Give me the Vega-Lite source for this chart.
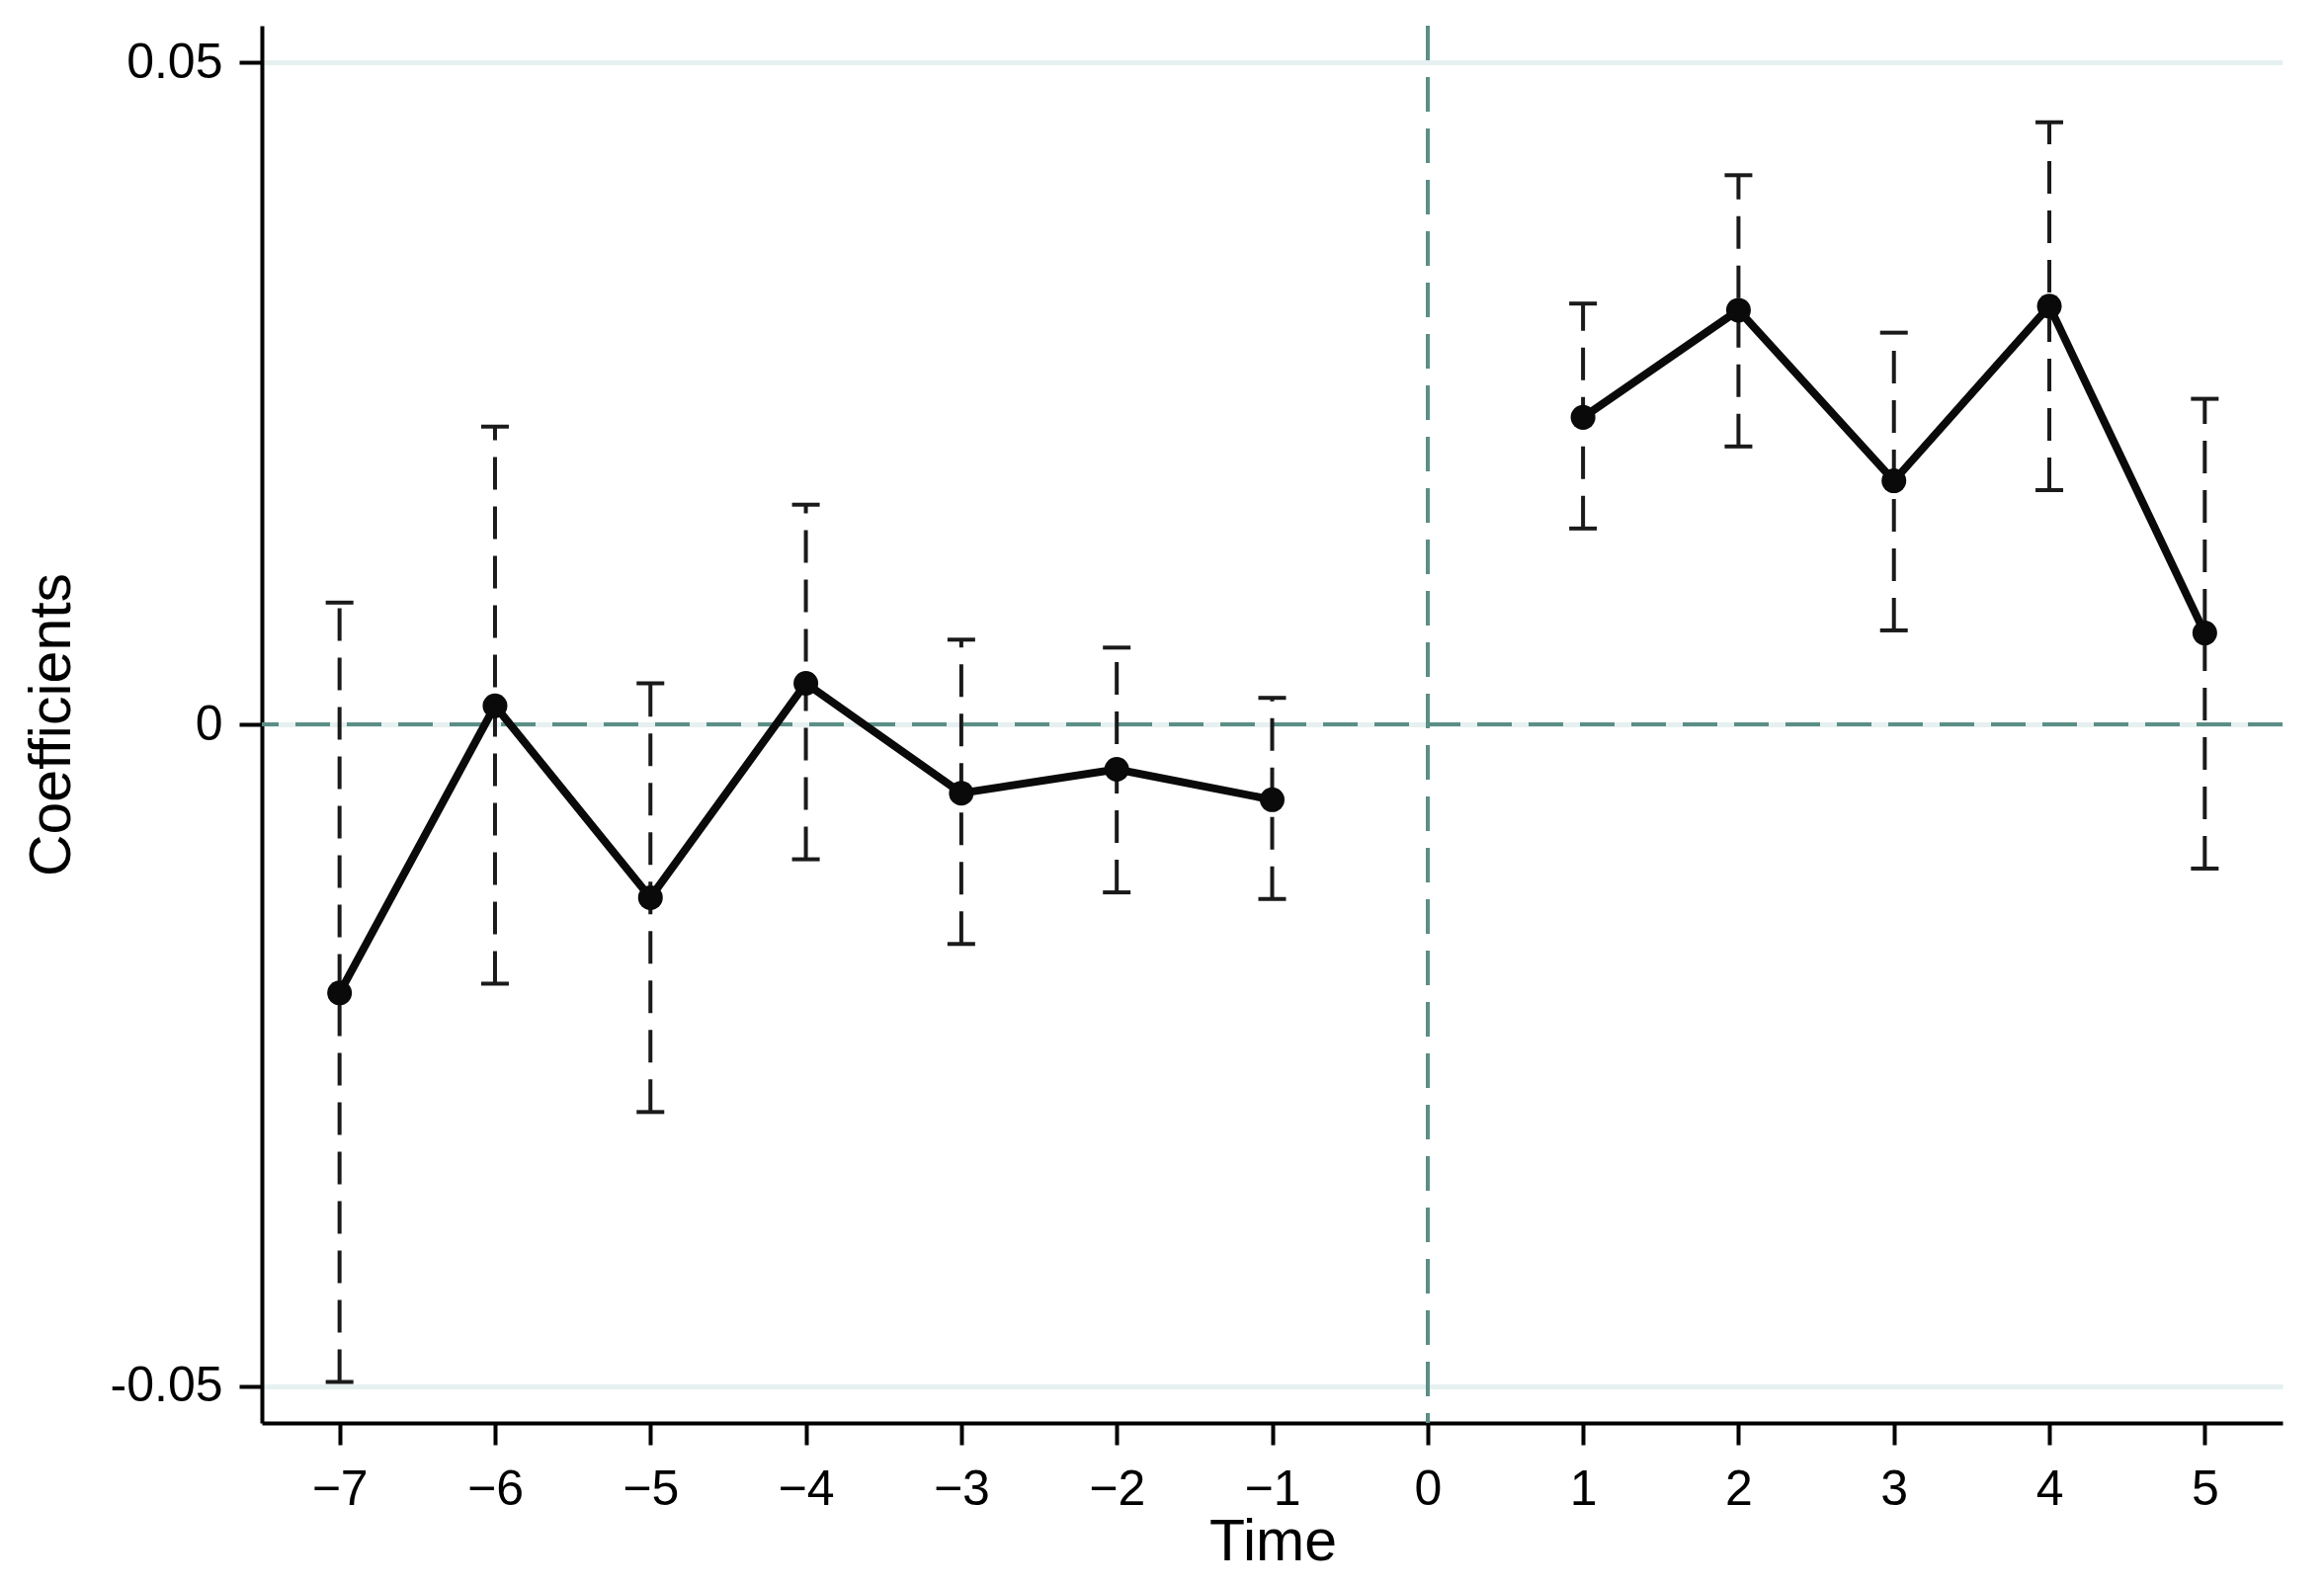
{
  "$schema": "https://vega.github.io/schema/vega-lite/v6.json",
  "width": 2045,
  "height": 1414,
  "autosize": {"type": "none"},
  "padding": {"left": 265, "top": 26, "right": 42, "bottom": 166},
  "background": "white",
  "config": {
    "view": {"stroke": null},
    "font": "Liberation Sans",
    "axis": {
      "domainColor": "#000000",
      "domainWidth": 4,
      "tickColor": "#000000",
      "tickWidth": 4,
      "labelFont": "Liberation Sans",
      "titleFont": "Liberation Sans",
      "labelColor": "#000000",
      "titleColor": "#000000",
      "titleFontWeight": "normal"
    }
  },
  "data": {
    "values": [
      {"t": -7, "b": -0.0203, "lo": -0.0497, "hi": 0.0092, "period": "pre"},
      {"t": -6, "b": 0.0014, "lo": -0.0196, "hi": 0.0225, "period": "pre"},
      {"t": -5, "b": -0.0131, "lo": -0.0293, "hi": 0.0031, "period": "pre"},
      {"t": -4, "b": 0.0031, "lo": -0.0102, "hi": 0.0166, "period": "pre"},
      {"t": -3, "b": -0.0052, "lo": -0.0166, "hi": 0.0064, "period": "pre"},
      {"t": -2, "b": -0.0034, "lo": -0.0127, "hi": 0.0058, "period": "pre"},
      {"t": -1, "b": -0.0057, "lo": -0.0132, "hi": 0.0020, "period": "pre"},
      {"t": 1, "b": 0.0232, "lo": 0.0148, "hi": 0.0318, "period": "post"},
      {"t": 2, "b": 0.0313, "lo": 0.0210, "hi": 0.0415, "period": "post"},
      {"t": 3, "b": 0.0184, "lo": 0.0071, "hi": 0.0296, "period": "post"},
      {"t": 4, "b": 0.0316, "lo": 0.0177, "hi": 0.0455, "period": "post"},
      {"t": 5, "b": 0.0069, "lo": -0.0109, "hi": 0.0246, "period": "post"}
    ]
  },
  "encoding": {
    "x": {
      "field": "t",
      "type": "quantitative",
      "scale": {"domain": [-7.5, 5.5], "nice": false, "zero": false},
      "axis": {
        "title": "Time",
        "values": [-7, -6, -5, -4, -3, -2, -1, 0, 1, 2, 3, 4, 5],
        "format": "d",
        "grid": false,
        "tickSize": 22,
        "labelFontSize": 50,
        "labelBaseline": "alphabetic",
        "labelPadding": 60,
        "labelFlush": false,
        "labelOverlap": false,
        "titleFontSize": 59,
        "titleBaseline": "alphabetic",
        "titleX": 1023,
        "titleY": 138
      }
    },
    "y": {
      "field": "b",
      "type": "quantitative",
      "scale": {"domain": [-0.0528, 0.0528], "nice": false, "zero": false},
      "axis": {
        "title": "Coefficients",
        "values": [-0.05, 0, 0.05],
        "format": "~g",
        "labelExpr": "replace(datum.label, '−', '-')",
        "grid": true,
        "gridColor": "#e6f0f0",
        "gridWidth": 5,
        "tickSize": 23,
        "labelFontSize": 50,
        "labelPadding": 17,
        "labelFlush": false,
        "titleFontSize": 59,
        "titleBaseline": "alphabetic",
        "titleX": -195,
        "titleY": 707
      }
    }
  },
  "layer": [
    {
      "mark": {"type": "rule", "color": "#5b8f86", "strokeWidth": 3, "strokeDash": [35, 17]},
      "encoding": {"x": {"datum": 0}, "y": null}
    },
    {
      "mark": {"type": "rule", "color": "#5b8f86", "strokeWidth": 4, "strokeDash": [35, 17]},
      "encoding": {"y": {"datum": 0}, "x": null}
    },
    {
      "mark": {"type": "rule", "color": "#1a1a1a", "strokeWidth": 4, "strokeDash": [33, 17]},
      "encoding": {
        "y": {"field": "lo", "type": "quantitative"},
        "y2": {"field": "hi"}
      }
    },
    {
      "mark": {"type": "rule", "color": "#1a1a1a", "strokeWidth": 4, "xOffset": -14, "x2Offset": 14},
      "encoding": {
        "x2": {"field": "t"},
        "y": {"field": "lo", "type": "quantitative"}
      }
    },
    {
      "mark": {"type": "rule", "color": "#1a1a1a", "strokeWidth": 4, "xOffset": -14, "x2Offset": 14},
      "encoding": {
        "x2": {"field": "t"},
        "y": {"field": "hi", "type": "quantitative"}
      }
    },
    {
      "mark": {"type": "line", "color": "#0a0a0a", "strokeWidth": 8},
      "encoding": {"detail": {"field": "period"}}
    },
    {
      "mark": {"type": "point", "shape": "circle", "filled": true, "color": "#0a0a0a", "opacity": 1, "size": 625},
      "encoding": {}
    }
  ]
}
